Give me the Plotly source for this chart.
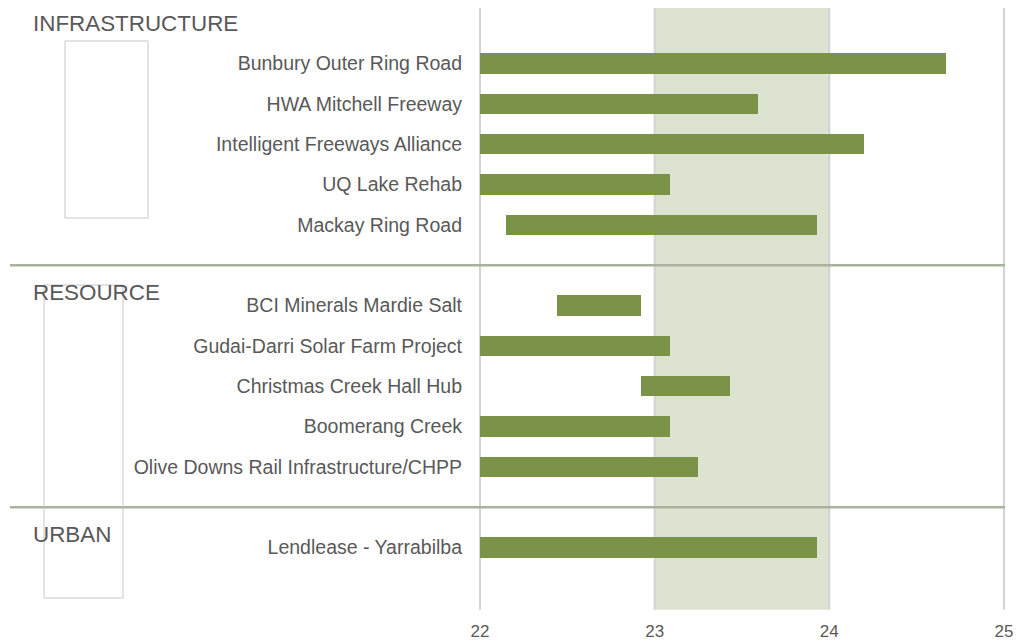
import plotly.graph_objects as go

# Data
projects = ["Bunbury Outer Ring Road", "HWA Mitchell Freeway", "Intelligent Freeways Alliance",
            "UQ Lake Rehab", "Mackay Ring Road",
            "BCI Minerals Mardie Salt", "Gudai-Darri Solar Farm Project", "Christmas Creek Hall Hub",
            "Boomerang Creek", "Olive Downs Rail Infrastructure/CHPP",
            "Lendlease - Yarrabilba"]
start = [22.0, 22.0, 22.0, 22.0, 22.15, 22.44, 22.0, 22.92, 22.0, 22.0, 22.0]
end = [24.67, 23.59, 24.20, 23.09, 23.93, 22.92, 23.09, 23.43, 23.09, 23.25, 23.93]
rows = [1, 2, 3, 4, 5, 7, 8, 9, 10, 11, 13]
sectors = ["INFRASTRUCTURE", "RESOURCE", "URBAN"]
sector_rows = [0, 6, 12]
separator_rows = [6, 12]
band = [23, 24]
xticks = [22, 23, 24, 25]

TXT = "#595959"
FONT = "Arial"

# page offset (browser body margin)
OFF = 8
FIG_W, FIG_H = 1028 - OFF, 642 - OFF
PLOT_L, PLOT_R = 479, 1005          # screen px of the x axis range
PLOT_T, PLOT_B = 8, 608             # screen px of the plot area
Y_TOP, Y_BOT = -0.376, 14.5         # row range shown
X_PAD = 0.006

def xpaper(px):
    return (px - PLOT_L) / (PLOT_R - PLOT_L)

def ypx(py):
    return 1 - (py - PLOT_T) / (PLOT_B - PLOT_T)

def ypaper(r):
    return (Y_BOT - r) / (Y_BOT - Y_TOP)

fig = go.Figure()
fig.add_trace(go.Bar(
    y=rows, x=[e - s for s, e in zip(start, end)], base=start,
    orientation="h", width=0.5,
    marker=dict(color="#7a9349", line=dict(width=0)),
    hoverinfo="skip", showlegend=False))

shapes = [
    dict(type="rect", xref="x", yref="paper", x0=band[0], x1=band[1], y0=-0.003, y1=1.01,
         fillcolor="#dce3d0", line=dict(width=0), layer="below"),
]
for v in xticks:
    shapes.append(dict(type="line", xref="x", yref="paper", x0=v, x1=v, y0=-0.003, y1=1.0,
                       line=dict(color="#d3d3d3", width=2), layer="between"))
for r in separator_rows:
    shapes.append(dict(type="line", xref="paper", yref="paper", x0=xpaper(10), x1=1,
                       y0=ypaper(r), y1=ypaper(r), line=dict(color="#a9b39b", width=2.5)))
# empty outline boxes
shapes.append(dict(type="rect", xref="paper", yref="paper", x0=xpaper(65), x1=xpaper(148),
                   y0=ypx(218), y1=ypx(41), line=dict(color="#c8c8c8", width=1)))
shapes.append(dict(type="rect", xref="paper", yref="paper", x0=xpaper(44), x1=xpaper(123),
                   y0=ypx(598), y1=ypx(285), line=dict(color="#c8c8c8", width=1)))

annotations = []
for name, r in zip(sectors, sector_rows):
    off = 0.0 if r == 0 else 0.67
    annotations.append(dict(text=name, xref="paper", yref="paper", x=xpaper(31),
                            y=ypaper(r + off), xanchor="left", yanchor="middle",
                            showarrow=False, font=dict(family=FONT, size=22.4, color=TXT)))

fig.update_layout(
    width=FIG_W, height=FIG_H,
    margin=dict(l=PLOT_L - OFF, r=FIG_W - (PLOT_R - OFF), t=PLOT_T - OFF, b=FIG_H - (PLOT_B - OFF)),
    paper_bgcolor="white", plot_bgcolor="white",
    shapes=shapes, annotations=annotations,
    xaxis=dict(range=[22 - X_PAD, 25 + X_PAD], tickvals=xticks, ticktext=[str(v) for v in xticks],
               showgrid=False, zeroline=False, showline=False, ticks="",
               ticklabelstandoff=11,
               tickfont=dict(family=FONT, size=17, color=TXT)),
    yaxis=dict(range=[Y_BOT, Y_TOP], tickvals=rows, ticktext=projects,
               showgrid=False, zeroline=False, showline=False, ticks="",
               ticklabelstandoff=16,
               tickfont=dict(family=FONT, size=19.5, color=TXT)),
    bargap=0,
)

fig.write_html("out.html")
